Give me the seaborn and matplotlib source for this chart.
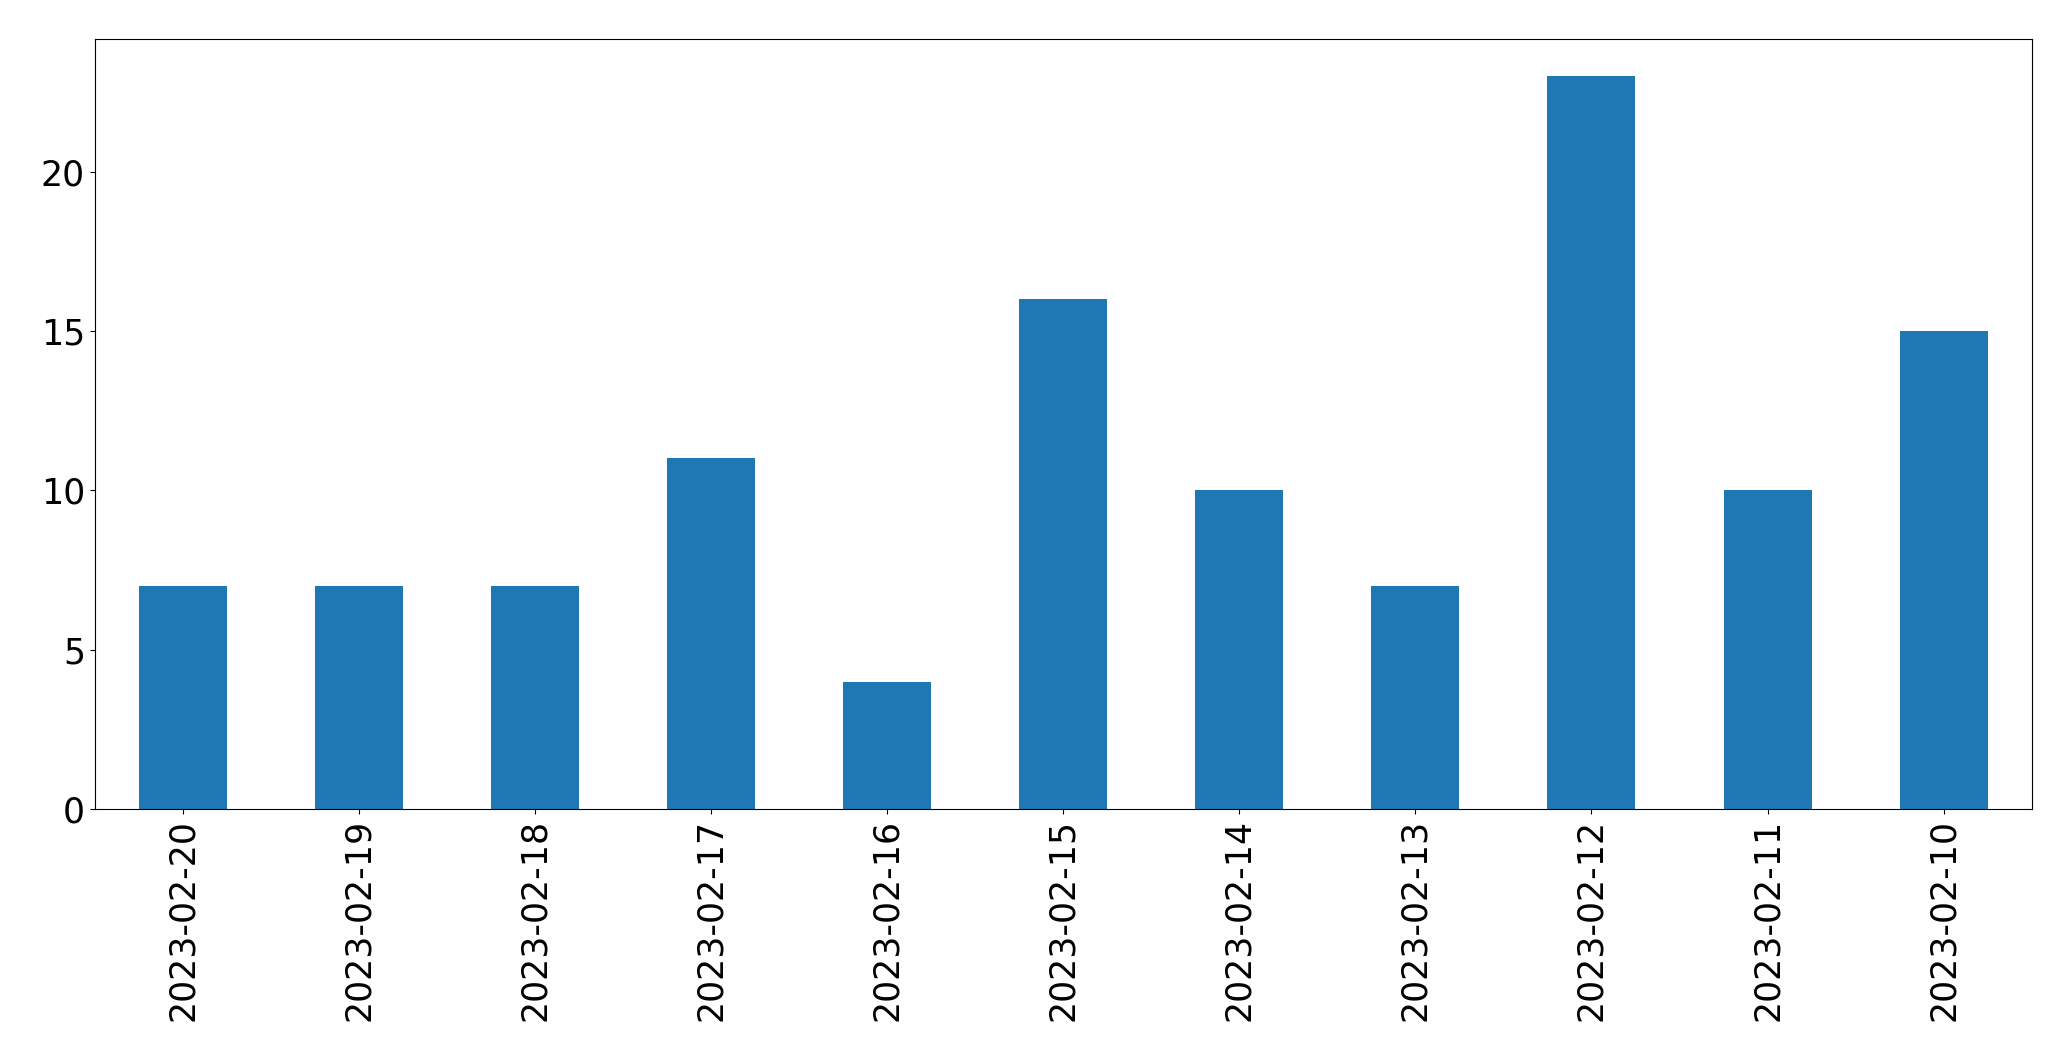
import matplotlib
matplotlib.use("Agg")
import matplotlib.pyplot as plt
import seaborn as sns
import pandas as pd

fechas = ["2023-02-20", "2023-02-19", "2023-02-18", "2023-02-17", "2023-02-16",
          "2023-02-15", "2023-02-14", "2023-02-13", "2023-02-12", "2023-02-11",
          "2023-02-10"]
conteos = [7, 7, 7, 11, 4, 16, 10, 7, 23, 10, 15]

df = pd.DataFrame({"fecha": fechas, "conteo": conteos})

fig = plt.figure(figsize=(20.71, 10.61), dpi=100)
ax = fig.add_axes([94.7 / 2071, 1 - 809 / 1061, (2031.7 - 94.7) / 2071, (809 - 39.3) / 1061])

sns.barplot(data=df, x="fecha", y="conteo", color="#1f77b4", saturation=1,
            width=0.5, order=fechas, ax=ax)

ax.set_xlim(-0.5, len(fechas) - 0.5)
ax.set_ylim(0, max(conteos) * 1.05)
ax.set_xlabel("")
ax.set_ylabel("")
ax.tick_params(axis="both", labelsize=25)
ax.tick_params(axis="x", labelrotation=90)

fig.savefig("out.png", dpi=100)
